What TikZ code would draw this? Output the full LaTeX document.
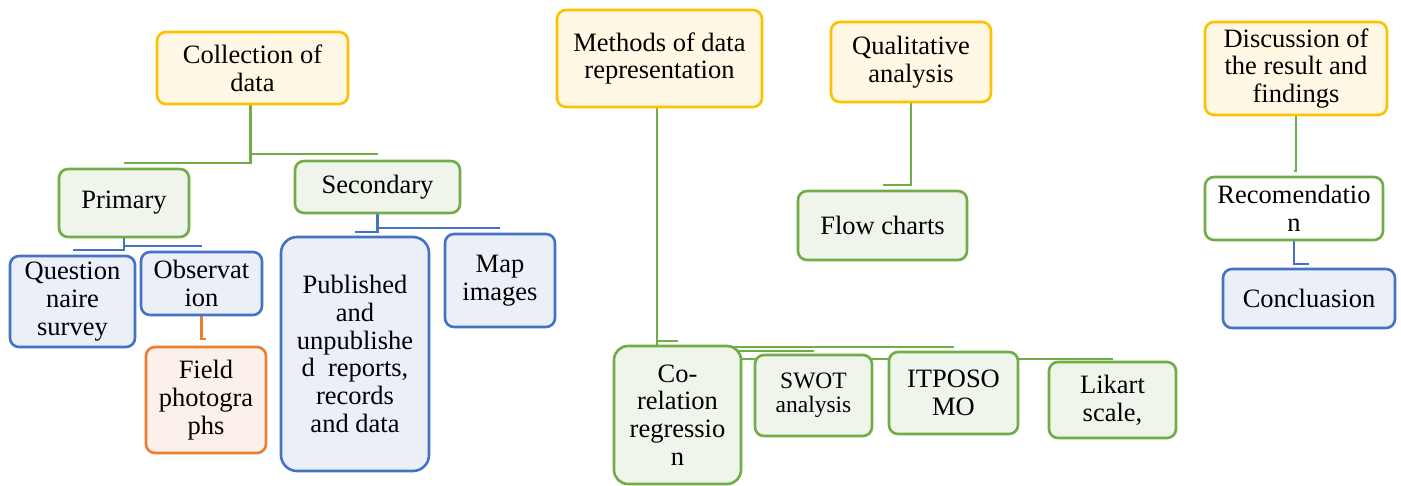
\documentclass[tikz,border=0pt]{standalone}
\usepackage{fontspec}
\setmainfont{Liberation Serif}
\usetikzlibrary{backgrounds}

\definecolor{goldLine}{HTML}{FFC000}
\definecolor{goldFill}{HTML}{FFF8E5}
\definecolor{leafLine}{HTML}{70AD47}
\definecolor{leafFill}{HTML}{EFF5EA}
\definecolor{skyLine}{HTML}{4472C4}
\definecolor{skyFill}{HTML}{EAEFF8}
\definecolor{rustLine}{HTML}{ED7D31}
\definecolor{rustFill}{HTML}{FCF0EA}

\begin{document}
\begin{tikzpicture}[
  x=1pt, y=-1pt,
  every node/.style={font=\fontsize{26.5}{27.8}\selectfont},
  stage/.style={rectangle, rounded corners=9pt, line width=2.6pt,
    align=center, inner sep=0pt},
  stageY/.style={stage, draw=goldLine, fill=goldFill},
  stageG/.style={stage, draw=leafLine, fill=leafFill},
  stageW/.style={stage, draw=leafLine, fill=white},
  stageB/.style={stage, draw=skyLine, fill=skyFill},
  stageO/.style={stage, draw=rustLine, fill=rustFill},
  boxSize/.style 2 args={minimum width=#1, minimum height=#2},
  link/.style={line width=2.4pt},
  linkG/.style={link, draw=leafLine},
  linkB/.style={link, draw=skyLine},
  linkO/.style={link, draw=rustLine}
]
\useasboundingbox (0,0) rectangle (1401,485);

% Top level stages
\node[stageY, boxSize={191pt}{72pt}] (collect) at (252.5,68) {Collection of\\data};
\node[stageY, boxSize={205pt}{97pt}] (methods) at (659.5,58.5) {Methods of data\\representation};
\node[stageY, boxSize={160pt}{80pt}] (quali) at (911,62) {Qualitative\\analysis};
\node[stageY, boxSize={182pt}{93pt}] (discuss) at (1296,68.5) {Discussion of\\the result and\\findings};

% Data collection branch
\node[stageG, boxSize={130pt}{68pt}] (primary) at (124,203) {Primary};
\node[stageG, boxSize={165pt}{52pt}] (secondary) at (377.5,187) {Secondary};
\node[stageB, boxSize={125pt}{91pt}] (quest) at (72.5,301.5) {Question\\naire\\survey};
\node[stageB, boxSize={121pt}{63pt}] (observe) at (201.5,283.5) {Observat\\ion};
\node[stageO, boxSize={120pt}{106pt}] (photos) at (206,400) {Field\\photogra\\phs};
\node[stageB, boxSize={148pt}{234pt}, rounded corners=16pt] (reports) at (355,354)
  {Published\\and\\unpublishe\\d\ \ reports,\\records\\and data};
\node[stageB, boxSize={110pt}{93pt}] (maps) at (500,280.5) {Map\\images};

% Representation and analysis branches
\node[stageG, boxSize={169pt}{69pt}] (flow) at (882.5,225.5) {Flow charts};
\node[stageG, boxSize={127pt}{138pt}, rounded corners=14pt] (correl) at (677.5,415)
  {Co-\\relation\\regressio\\n};
\node[stageG, boxSize={117pt}{81pt}, font=\fontsize{23.5}{24}\selectfont] (swot) at (813.5,395.5)
  {SWOT\\analysis};
\node[stageG, boxSize={129pt}{82pt}] (itposomo) at (953.5,393) {ITPOSO\\MO};
\node[stageG, boxSize={127pt}{76pt}] (likert) at (1112.5,400) {Likart\\scale,};
\node[stageW, boxSize={178pt}{63pt}] (recommend) at (1294,208.5) {Recomendatio\\n};
\node[stageB, boxSize={172pt}{59pt}] (conclude) at (1309,298.5) {Concluasion};

% Elbow links sit behind the boxes
\begin{pgfonlayer}{background}
\draw[linkG] ([xshift=-2pt]collect.south) |- ([yshift=5pt]primary.north);
\draw[linkG] ([xshift=-2pt]collect.south) |- ([yshift=6pt]secondary.north);
\draw[linkB] (primary.south) |- ([yshift=5pt]quest.north);
\draw[linkB] (primary.south) |- ([yshift=5pt]observe.north);
\draw[linkO] (observe.south) |- ([yshift=7pt]photos.north);
\draw[linkB] (secondary.south) |- ([yshift=4pt]reports.north);
\draw[linkB] (secondary.south) |- ([yshift=5pt]maps.north);
\draw[linkG] ([xshift=-2.5pt]methods.south) |- ([yshift=4pt]correl.north);
\draw[linkG] ([xshift=-2.5pt]methods.south) |- ([yshift=3pt]swot.north);
\draw[linkG] ([xshift=-2.5pt]methods.south) |- ([yshift=4pt]itposomo.north);
\draw[linkG] ([xshift=-2.5pt]methods.south) |- ([yshift=2pt]likert.north);
\draw[linkG] (quali.south) |- ([yshift=5pt]flow.north);
\draw[linkG] (discuss.south) |- ([yshift=5pt]recommend.north);
\draw[linkB] (recommend.south) |- ([yshift=4pt]conclude.north);
\end{pgfonlayer}
\end{tikzpicture}
\end{document}
